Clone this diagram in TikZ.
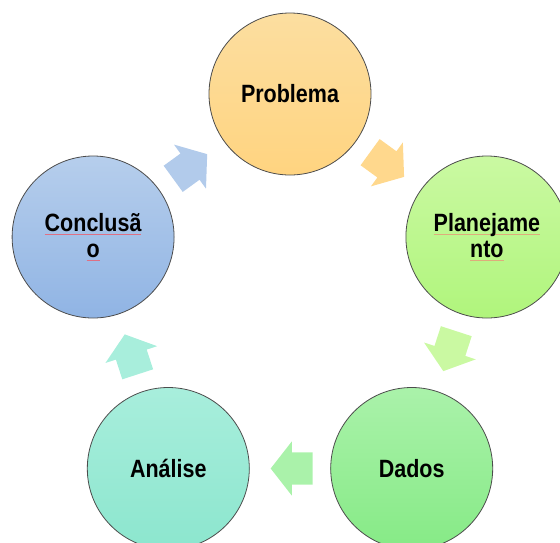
\documentclass[tikz,border=0pt]{standalone}
\usepackage{fontspec}
\setmainfont{Liberation Sans}[FakeStretch=0.86]
\usetikzlibrary{shapes.arrows,calc}

\definecolor{probtop}{RGB}{252,222,160}
\definecolor{probbot}{RGB}{255,212,128}
\definecolor{plantop}{RGB}{202,249,162}
\definecolor{planbot}{RGB}{176,245,124}
\definecolor{datatop}{RGB}{170,242,170}
\definecolor{databot}{RGB}{134,234,134}
\definecolor{analtop}{RGB}{168,238,220}
\definecolor{analbot}{RGB}{140,230,206}
\definecolor{conctop}{RGB}{182,206,236}
\definecolor{concbot}{RGB}{144,180,228}
\definecolor{tanmark}{RGB}{222,172,124}
\definecolor{redmark}{RGB}{222,112,132}

% word with the spelling underline
\newcommand{\spellmark}[2]{{\setbox0\hbox{#2}\rlap{\color{#1}\rule[-2.5pt]{\wd0}{0.7pt}}\box0}}

\begin{document}
\begin{tikzpicture}[x=1pt,y=-1pt,
    stage/.style={circle, draw=gray!60!black, line width=0.8pt, shading=axis,
        minimum size=162pt, inner sep=0pt, align=center,
        font=\bfseries\fontsize{25}{26}\selectfont},
    turn/.style={single arrow, draw=none, inner sep=0pt,
        text height=16pt, text depth=16pt,
        minimum height=42pt, single arrow head extend=11pt,
        single arrow tip angle=104, rotate=#1, xshift=-8pt}]
    \useasboundingbox (0,0) rectangle (560,542);
    \clip (0,0) rectangle (560,542);
    % the five stages
    \node[stage, top color=probtop, bottom color=probbot] (prob) at (290,94) {Problema};
    \node[stage, top color=plantop, bottom color=planbot] (plan) at (486.9,237)
        {\spellmark{tanmark}{Planejame}\\\spellmark{tanmark}{nto}};
    \node[stage, top color=datatop, bottom color=databot] (dados) at (411.7,468.5) {Dados};
    \node[stage, top color=analtop, bottom color=analbot] (anal) at (168.3,468.5) {Análise};
    \node[stage, top color=conctop, bottom color=concbot] (conc) at (93.1,237)
        {\spellmark{redmark}{Conclusã}\\\spellmark{redmark}{o}};
    % arrows round the cycle
    \node[turn=-36, fill=probbot!90!white] (probplan) at ($(prob)!0.5!(plan)$) {};
    \node[turn=-108, fill=plantop] (plandados) at ($(plan)!0.5!(dados)$) {};
    \node[turn=180, fill=datatop] (dadosanal) at ($(dados)!0.5!(anal)$) {};
    \node[turn=108, fill=analtop] (analconc) at ($(anal)!0.5!(conc)$) {};
    \node[turn=36, fill=conctop!90!concbot] (concprob) at ($(conc)!0.5!(prob)$) {};
\end{tikzpicture}
\end{document}
